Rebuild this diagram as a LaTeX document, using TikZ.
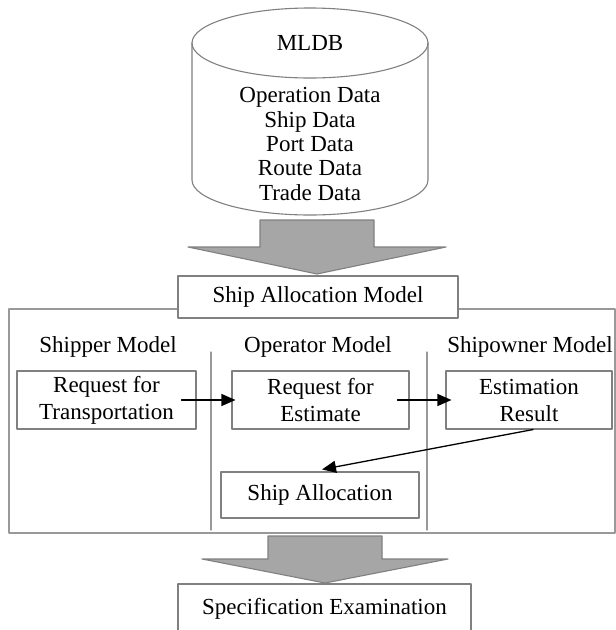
\documentclass[tikz,border=0pt]{standalone}
\usepackage{fontspec}
\setmainfont{Liberation Serif}
\usetikzlibrary{arrows.meta}
\definecolor{edgegray}{RGB}{128,128,128}
\definecolor{fillgray}{RGB}{166,166,166}

\begin{document}
\begin{tikzpicture}[line cap=round,line join=round,x=1pt,y=-1pt,
    font=\fontsize{23}{27}\selectfont,
    boxnode/.style={draw=edgegray,line width=1.1pt,fill=white,align=center,inner sep=0pt},
    blockarrow/.style={draw=edgegray,line width=1.1pt,fill=fillgray},
    divider/.style={draw=edgegray!80,line width=1.1pt},
    flowline/.style={-{Triangle[length=14pt,width=12pt]},line width=1.3pt}]
    \useasboundingbox (0,0) rectangle (616,630);
    % database cylinder
    \draw [edgegray,line width=1.1pt] (192,43)-- (192,180) arc[start angle=180,end angle=0,x radius=118,y radius=35] -- (428,43);
    \draw [edgegray,line width=1.1pt] (310,43) ellipse [x radius=118,y radius=35];
    \node (mldb) at (310,43) {MLDB};
    \node [align=center,font=\fontsize{23}{24.3}\selectfont] (dblist) at (310,144) {Operation Data\\Ship Data\\Port Data\\Route Data\\Trade Data};
    % upper block arrow
    \draw [blockarrow] (260,220)-- (374,220)-- (374,247)-- (446,247)-- (317,274)-- (188,247)-- (260,247)-- cycle;
    % model frame
    \draw [divider] (9,309) rectangle (615,533);
    \node [boxnode,minimum width=280pt,minimum height=42pt] (sam) at (318,297) {Ship Allocation Model};
    \node (shipper) at (108,347) {Shipper Model};
    \node (operator) at (318,347) {Operator Model};
    \node (shipowner) at (530,347) {Shipowner Model};
    \draw [divider] (211,352)-- (211,530);
    \draw [divider] (427,352)-- (427,530);
    \node [boxnode,minimum width=179pt,minimum height=58pt] (rft) at (106.5,400) {Request for\\Transportation};
    \node [boxnode,minimum width=177pt,minimum height=58pt] (rfe) at (320.5,400) {Request for\\Estimate};
    \node [boxnode,minimum width=166pt,minimum height=58pt] (er) at (529,400) {Estimation\\Result};
    \node [boxnode,minimum width=198pt,minimum height=46pt] (sa) at (320,495) {Ship Allocation};
    \draw [flowline] ([xshift=-15pt]rft.east)-- ([xshift=4pt]rfe.west);
    \draw [flowline] ([xshift=-12pt]rfe.east)-- ([xshift=6pt]er.west);
    \draw [flowline] ([xshift=4pt]er.south)-- ([xshift=2pt,yshift=2pt]sa.north);
    % lower block arrow
    \draw [blockarrow] (268,536)-- (382,536)-- (382,559)-- (448,559)-- (325,583)-- (202,559)-- (268,559)-- cycle;
    \node [boxnode,minimum width=293pt,minimum height=50pt] (spec) at (324.5,609) {Specification Examination};
\end{tikzpicture}
\end{document}
